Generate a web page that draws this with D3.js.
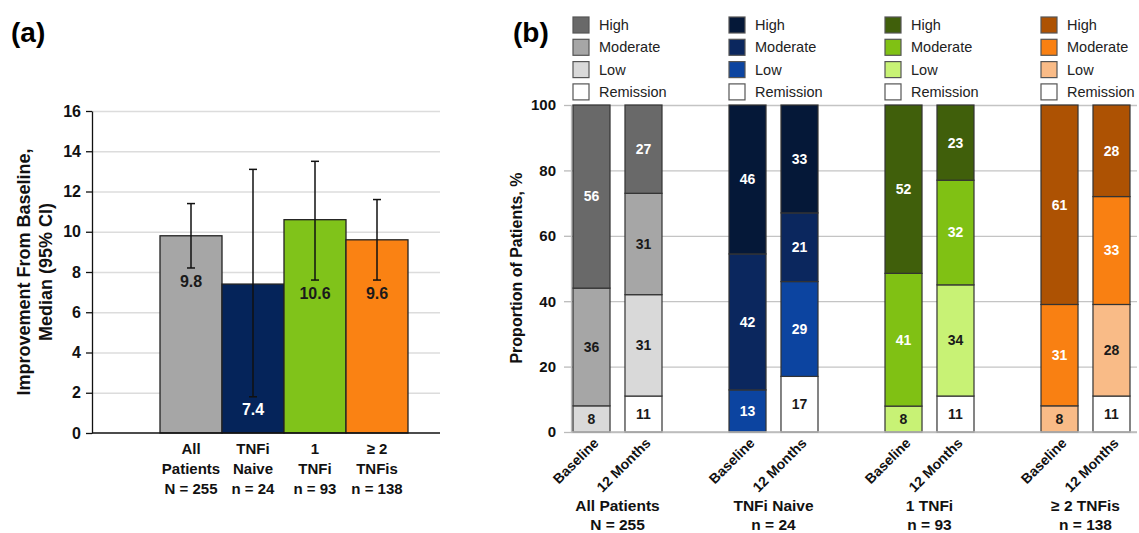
<!DOCTYPE html>
<html>
<head>
<meta charset="utf-8">
<script src="https://cdn.jsdelivr.net/npm/d3@7"></script>
<style>
  body { margin: 0; background: #fff; }
  svg { display: block; font-family: Arial, 'Liberation Sans', sans-serif; }
  .bold { font-weight: bold; }
</style>
</head>
<body>
<div id="chart"></div>
<script>
// ---- panel (a) data ----
const aCategories = ['All Patients', 'TNFi Naive', '1 TNFi', '≥ 2 TNFis'];
const aTickLines = [
  ['All', 'Patients', 'N = 255'],
  ['TNFi', 'Naive', 'n = 24'],
  ['1', 'TNFi', 'n = 93'],
  ['≥ 2', 'TNFis', 'n = 138']
];
const aMedian = [9.8, 7.4, 10.6, 9.6];
const aCiLow = [8.2, 1.8, 7.6, 7.6];
const aCiHigh = [11.4, 13.1, 13.5, 11.6];
const aTicks = [0, 2, 4, 6, 8, 10, 12, 14, 16];

// ---- panel (b) data ----
const bGroups = ['All Patients', 'TNFi Naive', '1 TNFi', '≥ 2 TNFis'];
const bGroupSub = ['N = 255', 'n = 24', 'n = 93', 'n = 138'];
const bTimes = ['Baseline', '12 Months'];
const bLevels = ['Remission', 'Low', 'Moderate', 'High'];
// values per group, per timepoint, in bLevels order
const bAllPatients = [[0, 8, 36, 56], [11, 31, 31, 27]];
const bTnfiNaive = [[0, 13, 42, 46], [17, 29, 21, 33]];
const bOneTnfi = [[0, 8, 41, 52], [11, 34, 32, 23]];
const bTwoPlusTnfi = [[0, 8, 31, 61], [11, 28, 33, 28]];
const bValues = [bAllPatients, bTnfiNaive, bOneTnfi, bTwoPlusTnfi];
const bTicks = [0, 20, 40, 60, 80, 100];

// colours (Remission, Low, Moderate, High)
const palettes = [
  ['#ffffff', '#d9d9d9', '#a6a6a6', '#696969'],
  ['#ffffff', '#0c44a0', '#0b275e', '#051838'],
  ['#ffffff', '#c8f275', '#80c114', '#405f0b'],
  ['#ffffff', '#f9bb87', '#f98012', '#ad5203']
];
const whiteText = [
  [false, false, false, true],
  [false, true, true, true],
  [false, false, true, true],
  [false, false, true, true]
];
const aColors = ['#a6a6a6', '#05245a', '#80c31a', '#fa8213'];

const W = 1139, H = 533;
const svg = d3.select('#chart').append('svg').attr('width', W).attr('height', H);

// ================= panel (a) =================
const ya = d3.scaleLinear().domain([0, 16]).range([433, 111]);
const xa = d3.scaleBand().domain(aCategories).range([160, 408]).padding(0);

svg.append('text').attr('class', 'bold').attr('x', 11).attr('y', 42)
  .attr('font-size', 28).text('(a)');

const ga = svg.append('g');

ga.append('g')
  .attr('transform', 'translate(92,0)')
  .call(d3.axisLeft(ya).tickValues(aTicks.slice(1)).tickFormat('').tickSize(-348).tickSizeOuter(0))
  .call(g => g.select('.domain').remove())
  .call(g => g.selectAll('line').attr('stroke', '#dcdcdc').attr('stroke-width', 1.5));

const aAxis = ga.append('g')
  .attr('transform', 'translate(92,0)')
  .call(d3.axisLeft(ya).tickValues(aTicks).tickSize(6).tickSizeOuter(0).tickPadding(5));
aAxis.select('.domain').attr('stroke', '#111').attr('stroke-width', 1.3);
aAxis.selectAll('line').attr('stroke', '#111').attr('stroke-width', 1.3);
aAxis.selectAll('text').attr('class', 'bold').attr('font-size', 16)
  .attr('fill', '#111').attr('font-family', 'Arial, Liberation Sans, sans-serif');

ga.selectAll('rect.bar')
  .data(aCategories)
  .join('rect')
  .attr('class', 'bar')
  .attr('x', d => xa(d))
  .attr('width', xa.bandwidth())
  .attr('y', (d, i) => ya(aMedian[i]))
  .attr('height', (d, i) => ya(0) - ya(aMedian[i]))
  .attr('fill', (d, i) => aColors[i])
  .attr('stroke', '#222')
  .attr('stroke-width', 1.3);

ga.append('line')
  .attr('x1', 92).attr('x2', 440)
  .attr('y1', ya(0)).attr('y2', ya(0))
  .attr('stroke', '#111').attr('stroke-width', 1.3);

const eb = ga.selectAll('g.err').data(aCategories).join('g').attr('class', 'err');
eb.append('line')
  .attr('x1', d => xa(d) + xa.bandwidth() / 2).attr('x2', d => xa(d) + xa.bandwidth() / 2)
  .attr('y1', (d, i) => ya(aCiLow[i])).attr('y2', (d, i) => ya(aCiHigh[i]))
  .attr('stroke', '#111').attr('stroke-width', 1.5);
[aCiLow, aCiHigh].forEach(arr => {
  eb.append('line')
    .attr('x1', d => xa(d) + xa.bandwidth() / 2 - 4).attr('x2', d => xa(d) + xa.bandwidth() / 2 + 4)
    .attr('y1', (d, i) => ya(arr[i])).attr('y2', (d, i) => ya(arr[i]))
    .attr('stroke', '#111').attr('stroke-width', 1.5);
});

ga.selectAll('text.val')
  .data(aCategories)
  .join('text')
  .attr('class', 'val bold')
  .attr('x', d => xa(d) + xa.bandwidth() / 2)
  .attr('y', (d, i) => ya(aCiLow[i]) + 13)
  .attr('dy', '0.35em')
  .attr('text-anchor', 'middle')
  .attr('font-size', 16)
  .attr('fill', (d, i) => i === 1 ? '#fff' : '#1a1a1a')
  .text((d, i) => aMedian[i].toFixed(1));

ga.selectAll('text.cat')
  .data(aCategories)
  .join('text')
  .attr('class', 'cat bold')
  .attr('text-anchor', 'middle')
  .attr('font-size', 15)
  .attr('fill', '#111')
  .each(function (d, i) {
    d3.select(this).selectAll('tspan')
      .data(aTickLines[i])
      .join('tspan')
      .attr('x', xa(d) + xa.bandwidth() / 2)
      .attr('y', (t, j) => 454 + j * 20)
      .text(t => t);
  });

const aTitle = ga.append('text')
  .attr('class', 'bold')
  .attr('transform', 'translate(0,272) rotate(-90)')
  .attr('text-anchor', 'middle')
  .attr('font-size', 18)
  .attr('fill', '#111');
aTitle.append('tspan').attr('x', 0).attr('y', 30).text('Improvement From Baseline,');
aTitle.append('tspan').attr('x', 0).attr('y', 52).text('Median (95% CI)');

// ================= panel (b) =================
svg.append('text').attr('class', 'bold').attr('x', 513).attr('y', 42)
  .attr('font-size', 28).text('(b)');

const yb = d3.scaleLinear().domain([0, 1]).range([432, 105]);
const xg = d3.scalePoint().domain(bGroups).range([617.5, 1085.5]);
const xt = d3.scaleBand().domain(bTimes).range([-44.5, 44.5]).paddingInner(0.288).paddingOuter(0);

const gb = svg.append('g');

gb.append('g')
  .attr('transform', 'translate(571,0)')
  .call(d3.axisLeft(yb).tickValues(bTicks.map(t => t / 100)).tickFormat('').tickSize(-566).tickSizeOuter(0))
  .call(g => g.select('.domain').remove())
  .call(g => g.selectAll('line').attr('stroke', '#c4c4c4').attr('stroke-width', 1.3));

const bAxis = gb.append('g')
  .attr('transform', 'translate(571,0)')
  .call(d3.axisLeft(yb).tickValues(bTicks.map(t => t / 100)).tickFormat(d => Math.round(d * 100))
    .tickSize(7).tickSizeOuter(0).tickPadding(8));
bAxis.select('.domain').attr('stroke', '#bbb').attr('stroke-width', 1.3);
bAxis.selectAll('line').attr('stroke', '#bbb').attr('stroke-width', 1.3);
bAxis.selectAll('text').attr('class', 'bold').attr('font-size', 15)
  .attr('fill', '#111').attr('font-family', 'Arial, Liberation Sans, sans-serif');

const stack = d3.stack()
  .keys(d3.range(bLevels.length))
  .offset(d3.stackOffsetExpand);

bGroups.forEach((grp, gi) => {
  const rows = bValues[gi];
  const series = stack(rows);
  const gg = gb.append('g').attr('transform', `translate(${xg(grp)},0)`);
  series.forEach((s, li) => {
    s.forEach((seg, ti) => {
      const v = rows[ti][li];
      if (!v) return;
      const x0 = xt(bTimes[ti]);
      gg.append('rect')
        .attr('x', x0)
        .attr('width', xt.bandwidth())
        .attr('y', yb(seg[1]))
        .attr('height', yb(seg[0]) - yb(seg[1]))
        .attr('fill', palettes[gi][li])
        .attr('stroke', '#333')
        .attr('stroke-width', 1.2);
      gg.append('text')
        .attr('class', 'bold')
        .attr('x', x0 + xt.bandwidth() / 2)
        .attr('y', yb((seg[0] + seg[1]) / 2))
        .attr('dy', '0.35em')
        .attr('text-anchor', 'middle')
        .attr('font-size', 14)
        .attr('fill', whiteText[gi][li] ? '#fff' : '#1a1a1a')
        .text(v);
    });
  });

  // rotated time labels
  bTimes.forEach(t => {
    gg.append('text')
      .attr('class', 'bold')
      .attr('text-anchor', 'end')
      .attr('font-size', 14)
      .attr('fill', '#111')
      .attr('transform', `translate(${xt(t) + xt.bandwidth() / 2 + 8},${444}) rotate(-45)`)
      .text(t);
  });

  // group labels
  gg.append('text').attr('class', 'bold').attr('text-anchor', 'middle')
    .attr('font-size', 15.5).attr('fill', '#111').attr('y', 511).text(grp);
  gg.append('text').attr('class', 'bold').attr('text-anchor', 'middle')
    .attr('font-size', 15.5).attr('fill', '#111').attr('y', 530).text(bGroupSub[gi]);

  // legend column
  const lx = xt(bTimes[0]);
  const legendOrder = bLevels.slice().reverse();
  legendOrder.forEach((lev, r) => {
    const li = bLevels.indexOf(lev);
    const ly = 25 + r * 22.3;
    gg.append('rect')
      .attr('x', lx).attr('y', ly - 8)
      .attr('width', 16).attr('height', 16)
      .attr('fill', palettes[gi][li])
      .attr('stroke', '#555').attr('stroke-width', 1.2);
    gg.append('text')
      .attr('x', lx + 26).attr('y', ly).attr('dy', '0.35em')
      .attr('font-size', 14.5).attr('fill', '#222')
      .text(lev);
  });
});

gb.append('line')
  .attr('x1', 571).attr('x2', 1137)
  .attr('y1', yb(0)).attr('y2', yb(0))
  .attr('stroke', '#bbb').attr('stroke-width', 1.3);

gb.append('text')
  .attr('class', 'bold')
  .attr('transform', 'translate(522,268) rotate(-90)')
  .attr('text-anchor', 'middle')
  .attr('font-size', 16)
  .attr('fill', '#111')
  .text('Proportion of Patients, %');
</script>
</body>
</html>
